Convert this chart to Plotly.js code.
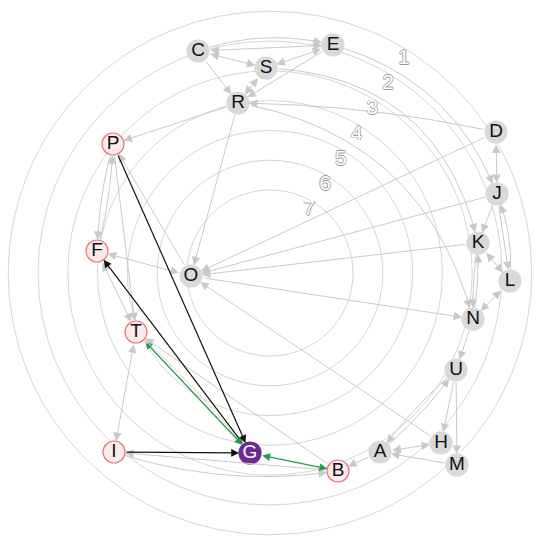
<!DOCTYPE html>
<html>
<head>
<meta charset="utf-8">
<script src="https://cdn.plot.ly/plotly-3.0.1.min.js"></script>
<style>html,body{margin:0;padding:0;background:#fff;}#chart{width:536px;height:537px;}</style>
</head>
<body>
<div id="chart"></div>
<script>
// ---- data ----
const nodeNames = ['C','E','S','R','P','F','O','T','I','G','B','A','H','M','U','N','L','K','J','D'];
const nodeX     = [198,333,266,238,113, 97,191,136,114,250,338,380,441,457,456,473,510,478,497,496];
const nodeY     = [ 51, 45, 68,103,144,251,276,332,452,453,471,452,443,465,370,319,281,243,194,132];
const nodeGroup = ['n','n','n','n','p','p','n','p','p','g','p','n','n','n','n','n','n','n','n','n'];

const ringLevels = [1,2,3,4,5,6,7];

const edgeFrom = ['C','C','C','E','C','E','S','D','R','R','D','J','K','O','H','O','O','P','F','P','F','T','B','B','I','A','A','M','U','A','U','U','N','K','N','K','L','J','L','J','D','E','S','R','I','P','G','T','G','G'];
const edgeTo   = ['E','E','S','S','R','R','R','R','P','O','O','O','O','N','O','F','P','F','P','T','T','I','I','T','B','B','H','A','A','U','H','M','U','N','K','L','N','K','J','L','J','J','K','N','G','G','F','G','B','T'];
const edgeDir  = ['both','one','both','both','one','one','both','one','one','one','one','one','one','one','one','both','one','one','one','one','both','both','one','one','one','one','both','one','one','one','one','one','one','one','one','both','both','one','one','one','both','one','one','one','one','one','one','both','both','one'];
const edgeKind = ['gray','gray','gray','gray','gray','gray','gray','gray','gray','gray','gray','gray','gray','gray','gray','gray','gray','gray','gray','gray','gray','gray','gray','gray','gray','gray','gray','gray','gray','gray','gray','gray','gray','gray','gray','gray','gray','gray','gray','gray','gray','gray','gray','gray','black','black','black','green','green','pink'];

// ---- styling / geometry helpers ----
const bends = {1:-0.15, 7:0.05, 17:0.06, 18:0.06, 24:0.12, 28:0.06, 29:0.06, 33:0.05, 34:0.05, 38:0.12, 41:-0.25, 42:-0.38, 43:-0.32, 49:0.04};
const kindStyle = {
  gray:  {color:'#c9c9c9', head:'#bdbdbd', w:1,   size:1.7},
  black: {color:'#111111', head:'#111111', w:1.2, size:1.3},
  green: {color:'#1f9e4a', head:'#1f9e4a', w:1.2, size:1.3},
  pink:  {color:'#f2c4c4', head:'#f2c4c4', w:1,   size:1}
};
const center = {x:270, y:273};
const innerR = 83, ringStep = 29.8;
const nodeR = 11;

const idx = {};
nodeNames.forEach((n,i)=> idx[n]=i);

const shapes = ringLevels.map(k => {
  const r = innerR + ringStep*(7-k);
  return {type:'circle', xref:'x', yref:'y', x0:center.x-r, x1:center.x+r, y0:center.y-r, y1:center.y+r,
          line:{color:'#d6d6d6', width:1}, layer:'below'};
});

const traces = [];
const annotations = [];

function bez(p0,c,p1,t){
  return {x:(1-t)*(1-t)*p0.x + 2*(1-t)*t*c.x + t*t*p1.x, y:(1-t)*(1-t)*p0.y + 2*(1-t)*t*c.y + t*t*p1.y};
}
function dist(a,b){return Math.hypot(a.x-b.x,a.y-b.y);}

edgeFrom.forEach((f,i) => {
  const s = {x:nodeX[idx[f]], y:nodeY[idx[f]]};
  const t = {x:nodeX[idx[edgeTo[i]]], y:nodeY[idx[edgeTo[i]]]};
  const st = kindStyle[edgeKind[i]];
  const both = edgeDir[i]==='both';
  const b = bends[i] || 0;
  if (!b) {
    annotations.push({x:t.x, y:t.y, ax:s.x, ay:s.y, xref:'x', yref:'y', axref:'x', ayref:'y',
      text:'', showarrow:true, arrowhead:2, arrowsize:st.size, arrowwidth:st.w, arrowcolor:st.color,
      standoff:nodeR, startstandoff:nodeR, arrowside: both ? 'end+start' : 'end',
      startarrowhead:2, startarrowsize:st.size});
  } else {
    const dx = t.x-s.x, dy = t.y-s.y;
    const c = {x:(s.x+t.x)/2 + b*(-dy), y:(s.y+t.y)/2 + b*(dx)};
    const xs=[], ys=[];
    let nearEnd = null, nearStart = null;
    for (let k=0;k<=80;k++){
      const p = bez(s,c,t,k/80);
      if (dist(p,s) >= nodeR && dist(p,t) >= nodeR) { xs.push(p.x); ys.push(p.y); }
      if (!nearEnd && dist(p,t) < 24) nearEnd = p;
      if (dist(p,s) < 24) nearStart = p;
    }
    traces.push({type:'scatter', mode:'lines', x:xs, y:ys, line:{color:st.color, width:st.w}, hoverinfo:'skip'});
    annotations.push({x:t.x, y:t.y, ax:nearEnd.x, ay:nearEnd.y, xref:'x', yref:'y', axref:'x', ayref:'y',
      text:'', showarrow:true, arrowhead:2, arrowsize:st.size, arrowwidth:st.w, arrowcolor:st.color, standoff:nodeR});
    if (both) annotations.push({x:s.x, y:s.y, ax:nearStart.x, ay:nearStart.y, xref:'x', yref:'y', axref:'x', ayref:'y',
      text:'', showarrow:true, arrowhead:2, arrowsize:st.size, arrowwidth:st.w, arrowcolor:st.color, standoff:nodeR});
  }
});

// ring labels
const ang = 58*Math.PI/180;
traces.push({type:'scatter', mode:'text',
  x: ringLevels.map(k => center.x + (innerR + ringStep*(7-k) - 9)*Math.cos(ang)),
  y: ringLevels.map(k => center.y - (innerR + ringStep*(7-k) - 9)*Math.sin(ang)),
  text: ringLevels.map(String),
  textfont:{family:'Liberation Sans Narrow, Liberation Sans, Arial, sans-serif', size:21, color:'#ffffff',
    shadow:'0.8px 0 0 #9a9a9a, -0.8px 0 0 #9a9a9a, 0 0.8px 0 #9a9a9a, 0 -0.8px 0 #9a9a9a'},
  hoverinfo:'skip'});

// nodes
const fillMap = {n:'#d9d9d9', p:'#fdeaea', g:'#6a2c8e'};
const lineMap = {n:'#d9d9d9', p:'#e07a7a', g:'#6a2c8e'};
traces.push({type:'scatter', mode:'markers+text', x:nodeX, y:nodeY, text:nodeNames,
  textposition:'middle center',
  textfont:{family:'Liberation Sans, Arial, sans-serif', size:19, color:nodeGroup.map(g => g==='g' ? '#ffffff' : '#111111')},
  marker:{size:22, color:nodeGroup.map(g=>fillMap[g]), line:{width:1.2, color:nodeGroup.map(g=>lineMap[g])}},
  hoverinfo:'skip'});

const layout = {
  width:536, height:537, margin:{l:0,r:0,t:0,b:0},
  paper_bgcolor:'#ffffff', plot_bgcolor:'#ffffff', showlegend:false,
  xaxis:{range:[0,536], visible:false, fixedrange:true},
  yaxis:{range:[537,0], visible:false, fixedrange:true},
  shapes:shapes, annotations:annotations
};
Plotly.newPlot('chart', traces, layout, {displayModeBar:false, staticPlot:true});
</script>
</body>
</html>
